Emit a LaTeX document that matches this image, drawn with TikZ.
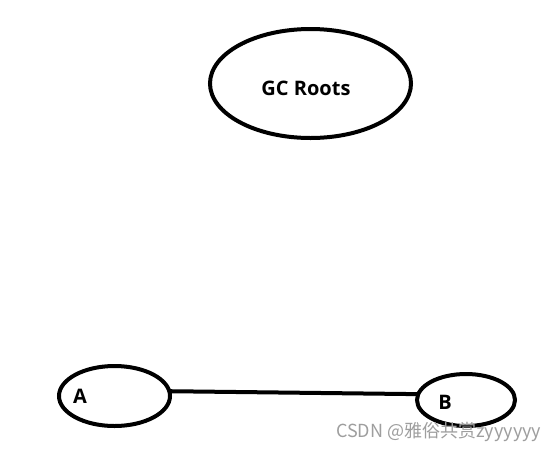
\documentclass[tikz,border=0pt]{standalone}
\usepackage{fontspec}
\setmainfont{Open Sans}
\newfontfamily\cjkfont{Noto Sans CJK SC}
\usetikzlibrary{shapes.geometric}
\begin{document}
\begin{tikzpicture}[x=1pt,y=-1pt,
  oval/.style={draw=black,line width=4pt,ellipse,inner sep=0pt,outer sep=0pt},
  lbl/.style={font=\fontsize{20}{22}\selectfont\bfseries,text=black,inner sep=0pt},
  wm/.style={font=\cjkfont\fontsize{18}{20}\selectfont,text=black!38,inner sep=0pt,anchor=west}]
\useasboundingbox (0,0) rectangle (560,451);
\fill[white] (0,0) rectangle (560,451);
\node[oval,minimum width=201pt,minimum height=109pt] (gc) at (310.5,83.5) {};
\node[lbl] (gct) at (306,88) {GC Roots};
\node[oval,minimum width=111pt,minimum height=60pt] (a) at (114.5,396) {};
\node[lbl] (at) at (80,396) {A};
\node[oval,minimum width=98pt,minimum height=52pt] (b) at (466,400) {};
\node[lbl] (bt) at (445,402) {B};
\draw[line width=4pt] (a.5) -- (b.173);
\node[wm] (w) at (336,432) {CSDN @雅俗共赏zyyyyyy};
\end{tikzpicture}
\end{document}
